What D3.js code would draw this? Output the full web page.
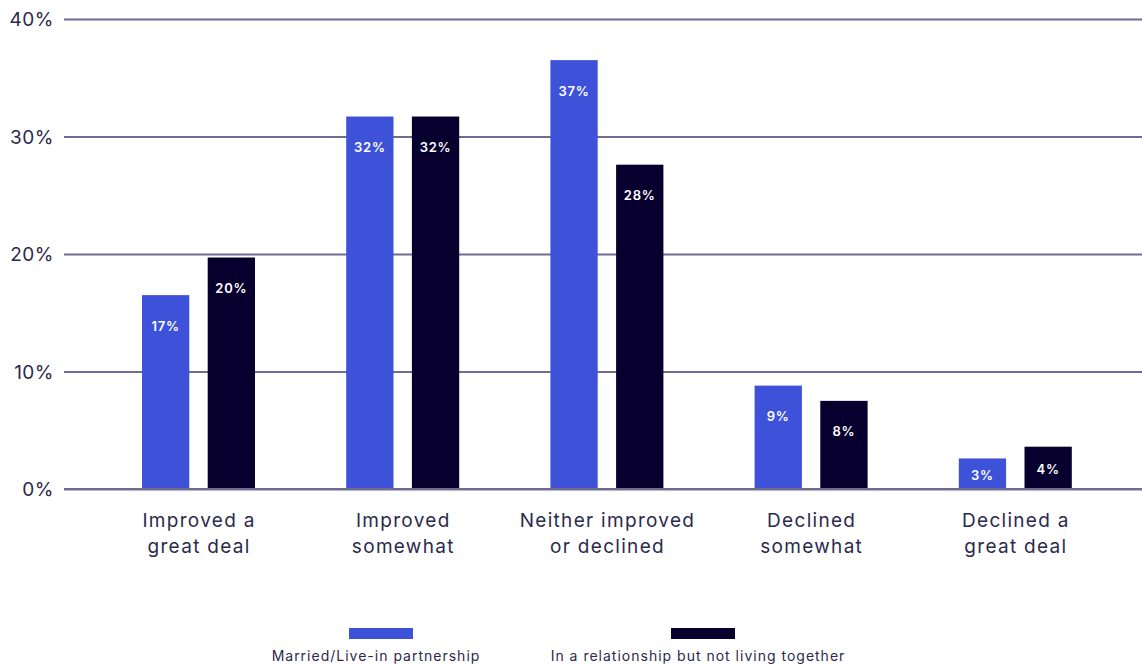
<!DOCTYPE html>
<html>
<head>
<meta charset="utf-8">
<script src="https://cdn.jsdelivr.net/npm/d3@7"></script>
<style>
  body { margin: 0; background: #fff; }
  svg text { font-family: "Inter", "DejaVu Sans", sans-serif; }
</style>
</head>
<body>
<div id="chart"></div>
<script>
// categories and the two series (percent)
let categories = [
  ["Improved a", "great deal"],
  ["Improved", "somewhat"],
  ["Neither improved", "or declined"],
  ["Declined", "somewhat"],
  ["Declined a", "great deal"]
];
let seriesNames = ["Married/Live-in partnership", "In a relationship but not living together"];
let married = [16.5, 31.7, 36.5, 8.8, 2.6];
let relationship = [19.7, 31.7, 27.6, 7.5, 3.6];
let barLabels = [
  ["17%", "32%", "37%", "9%", "3%"],
  ["20%", "32%", "28%", "8%", "4%"]
];
let yTicks = [0, 10, 20, 30, 40];
let colors = ["#3e52d9", "#07002f"];

let width = 1142, height = 665;
let svg = d3.select("#chart").append("svg")
  .attr("width", width)
  .attr("height", height);

// scales
let y = d3.scaleLinear().domain([0, 40]).range([489, 19]);
let x = d3.scaleBand().domain(d3.range(categories.length)).range([96, 1117]);
let xs = d3.scaleBand().domain([0, 1]).range([46, 159]).paddingInner(0.28);

// gridlines + y labels
let yAxis = svg.append("g").attr("transform", "translate(64,0)")
  .call(d3.axisRight(y).tickValues(yTicks).tickSize(1078).tickFormat(d => d + "%"));
yAxis.select(".domain").remove();
yAxis.selectAll(".tick line").attr("stroke", "#6f6c92").attr("stroke-width", 2);
yAxis.selectAll(".tick text")
  .attr("x", -10).attr("text-anchor", "end")
  .attr("fill", "#2b2a4c").attr("font-size", 19).attr("dy", "0.35em")
  .attr("letter-spacing", 0.5);

// bars
let series = [married, relationship];
series.forEach((vals, s) => {
  let g = svg.append("g");
  g.selectAll("rect")
    .data(vals)
    .enter()
    .append("rect")
    .attr("x", (d, i) => x(i) + xs(s))
    .attr("width", xs.bandwidth())
    .attr("y", d => y(d))
    .attr("height", d => y(0) - y(d))
    .attr("fill", colors[s]);
  g.selectAll("text")
    .data(vals)
    .enter()
    .append("text")
    .attr("x", (d, i) => x(i) + xs(s) + xs.bandwidth() / 2)
    .attr("y", d => Math.min(y(d) + 31, (y(d) + y(0)) / 2 + 2))
    .attr("dy", "0.35em")
    .attr("text-anchor", "middle")
    .attr("fill", "#fff")
    .attr("font-size", 13)
    .attr("font-weight", 600)
    .attr("letter-spacing", 0.8)
    .text((d, i) => barLabels[s][i]);
});

// baseline redrawn on top
svg.append("line")
  .attr("x1", 64).attr("x2", width)
  .attr("y1", y(0)).attr("y2", y(0))
  .attr("stroke", "#6f6c92").attr("stroke-width", 2);

// category labels
let xLab = svg.append("g");
categories.forEach((lines, i) => {
  let cx = x(i) + x.bandwidth() / 2 + 1;
  let t = xLab.append("text")
    .attr("x", cx)
    .attr("y", 527)
    .attr("text-anchor", "middle")
    .attr("fill", "#2b2a4c")
    .attr("font-size", 19)
    .attr("letter-spacing", 1.3);
  lines.forEach((l, j) => {
    t.append("tspan").attr("x", cx).attr("dy", j ? 26 : 0).text(l);
  });
});

// legend
let legX = [381, 703];
seriesNames.forEach((n, s) => {
  svg.append("rect")
    .attr("x", legX[s] - 32).attr("y", 628)
    .attr("width", 64).attr("height", 11)
    .attr("fill", colors[s]);
  svg.append("text")
    .attr("x", legX[s] - 5).attr("y", 661)
    .attr("text-anchor", "middle")
    .attr("fill", "#2b2a4c")
    .attr("font-size", 14)
    .attr("letter-spacing", 1)
    .text(n);
});
</script>
</body>
</html>
